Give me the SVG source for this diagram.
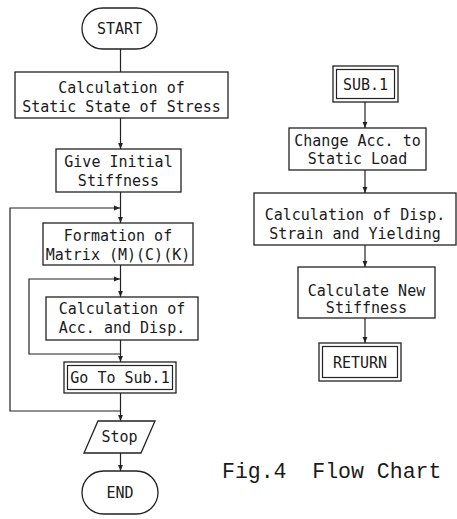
<svg xmlns="http://www.w3.org/2000/svg" width="457" height="519" viewBox="0 0 457 519">
<defs>
<style>
.b{fill:#fff;stroke:#222;stroke-width:1.3}
.c{fill:none;stroke:#222;stroke-width:1.2}
.t{font-family:"DejaVu Sans Mono","Liberation Mono",monospace;font-size:15px;fill:#1a1a1a;text-anchor:middle}
.cap{font-family:"Liberation Mono","DejaVu Sans Mono",monospace;font-size:21.5px;fill:#1a1a1a}
</style>
<marker id="ah" viewBox="0 0 10 10" refX="10" refY="5" markerWidth="6" markerHeight="6" orient="auto" markerUnits="userSpaceOnUse">
<path d="M0,1 L10,5 L0,9 Z" fill="#222"/>
</marker>
</defs>
<rect width="457" height="519" fill="#fff"/>
<g id="connectors">
<line class="c" x1="120.5" y1="49" x2="120.5" y2="72"/>
<line class="c" x1="120.5" y1="118" x2="120.5" y2="149" marker-end="url(#ah)"/>
<line class="c" x1="120.5" y1="192" x2="120.5" y2="223" marker-end="url(#ah)"/>
<line class="c" x1="120.5" y1="265" x2="120.5" y2="297" marker-end="url(#ah)"/>
<line class="c" x1="120.5" y1="340" x2="120.5" y2="362" marker-end="url(#ah)"/>
<line class="c" x1="120.5" y1="393" x2="120.5" y2="421" marker-end="url(#ah)"/>
<line class="c" x1="120.5" y1="453" x2="120.5" y2="471" marker-end="url(#ah)"/>
<polyline class="c" points="120.5,411 10,411 10,208 120,208" marker-end="url(#ah)"/>
<polyline class="c" points="120.5,354 29,354 29,279 120,279" marker-end="url(#ah)"/>
<line class="c" x1="365" y1="102" x2="365" y2="128" marker-end="url(#ah)"/>
<line class="c" x1="365" y1="170" x2="365" y2="193" marker-end="url(#ah)"/>
<line class="c" x1="365" y1="245" x2="365" y2="267" marker-end="url(#ah)"/>
<line class="c" x1="365" y1="318" x2="365" y2="343" marker-end="url(#ah)"/>
</g>
<g id="start">
<rect class="b" x="82" y="8" width="75" height="41" rx="20.5"/>
<text class="t" x="119.5" y="34">START</text>
</g>
<g id="static-stress">
<rect class="b" x="15" y="72" width="213" height="46"/>
<text class="t" x="121.5" y="93">Calculation of</text>
<text class="t" x="121.5" y="112">Static State of Stress</text>
</g>
<g id="initial-stiffness">
<rect class="b" x="56" y="149" width="125" height="43"/>
<text class="t" x="118.5" y="167">Give Initial</text>
<text class="t" x="118.5" y="186">Stiffness</text>
</g>
<g id="formation">
<rect class="b" x="43" y="223" width="150" height="42"/>
<text class="t" x="118" y="241">Formation of</text>
<text class="t" x="118" y="260">Matrix (M)(C)(K)</text>
</g>
<g id="calc-acc">
<rect class="b" x="46" y="297" width="152" height="43"/>
<text class="t" x="122" y="314">Calculation of</text>
<text class="t" x="122" y="333">Acc. and Disp.</text>
</g>
<g id="goto-sub1">
<rect class="b" x="64" y="362" width="112" height="31"/>
<rect class="c" x="67.5" y="365.5" width="105" height="24"/>
<text class="t" x="120" y="383">Go To Sub.1</text>
</g>
<g id="stop">
<polygon class="b" points="98,421 155,421 141,453 84,453"/>
<text class="t" x="119.5" y="442">Stop</text>
</g>
<g id="end">
<rect class="b" x="82" y="471" width="76" height="43" rx="21.5"/>
<text class="t" x="120" y="498">END</text>
</g>
<g id="sub1">
<rect class="b" x="333" y="66" width="65" height="36"/>
<rect class="c" x="336.5" y="69.5" width="58" height="29"/>
<text class="t" x="365.5" y="90">SUB.1</text>
</g>
<g id="change-acc">
<rect class="b" x="289" y="128" width="137" height="42"/>
<text class="t" x="357.5" y="146">Change Acc. to</text>
<text class="t" x="357.5" y="164">Static Load</text>
</g>
<g id="calc-disp">
<rect class="b" x="254" y="193" width="202" height="52"/>
<text class="t" x="355" y="220">Calculation of Disp.</text>
<text class="t" x="355" y="239">Strain and Yielding</text>
</g>
<g id="new-stiffness">
<rect class="b" x="298" y="267" width="137" height="51"/>
<text class="t" x="366.5" y="296">Calculate New</text>
<text class="t" x="366.5" y="313">Stiffness</text>
</g>
<g id="return">
<rect class="b" x="319" y="343" width="82" height="38"/>
<rect class="c" x="322.5" y="346.5" width="75" height="31"/>
<text class="t" x="360" y="368">RETURN</text>
</g>
<text class="cap" x="222" y="478" xml:space="preserve">Fig.4  Flow Chart</text>
</svg>
